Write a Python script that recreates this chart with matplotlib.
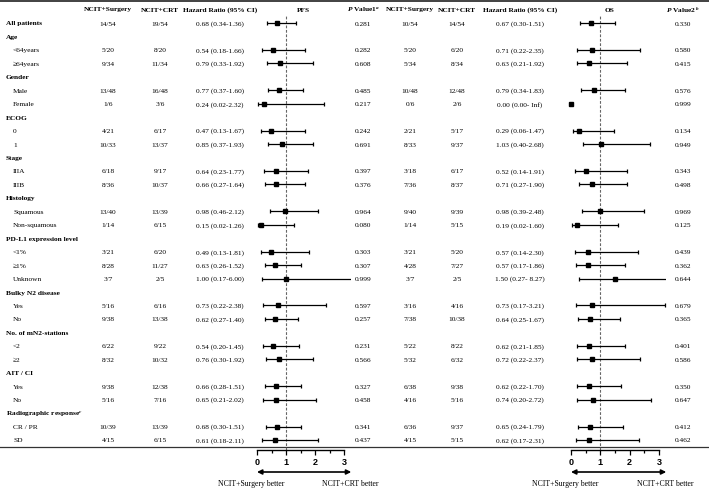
import numpy as np
import matplotlib
matplotlib.use("Agg")
import matplotlib.pyplot as plt

plt.rcParams["font.family"] = ["Liberation Serif", "DejaVu Serif"]
plt.rcParams["mathtext.fontset"] = "custom"
plt.rcParams["mathtext.rm"] = "Liberation Serif:bold"
plt.rcParams["mathtext.it"] = "Liberation Serif:italic:bold"
plt.rcParams["mathtext.bf"] = "Liberation Serif:bold"

# ---- data ----
labels = ["All patients", "Age", "<64years", "\u226564years", "Gender", "Male", "Female",
          "ECOG", "0", "1", "Stage", "IIIA", "IIIB", "Histology", "Squamous", "Non-squamous",
          "PD-L1 expression level", "<1%", "\u22651%", "Unknown", "Bulky N2 disease", "Yes", "No",
          "No. of mN2-stations", "<2", "\u22652", "AIT / CI", "Yes", "No",
          "Radiographic response$^{c}$", "CR / PR", "SD"]
is_header = [True, True, False, False, True, False, False, True, False, False, True, False, False,
             True, False, False, True, False, False, False, True, False, False, True, False, False,
             True, False, False, True, False, False]

pfs_surg = ["14/54", None, "5/20", "9/34", None, "13/48", "1/6", None, "4/21", "10/33", None,
            "6/18", "8/36", None, "13/40", "1/14", None, "3/21", "8/28", "3/7", None, "5/16",
            "9/38", None, "6/22", "8/32", None, "9/38", "5/16", None, "10/39", "4/15"]
pfs_crt = ["19/54", None, "8/20", "11/34", None, "16/48", "3/6", None, "6/17", "13/37", None,
           "9/17", "10/37", None, "13/39", "6/15", None, "6/20", "11/27", "2/5", None, "6/16",
           "13/38", None, "9/22", "10/32", None, "12/38", "7/16", None, "13/39", "6/15"]
pfs_hr = [0.68, None, 0.54, 0.79, None, 0.77, 0.24, None, 0.47, 0.85, None, 0.64, 0.66, None,
          0.98, 0.15, None, 0.49, 0.63, 1.00, None, 0.73, 0.62, None, 0.54, 0.76, None, 0.66,
          0.65, None, 0.68, 0.61]
pfs_lo = [0.34, None, 0.18, 0.33, None, 0.37, 0.02, None, 0.13, 0.37, None, 0.23, 0.27, None,
          0.46, 0.02, None, 0.13, 0.26, 0.17, None, 0.22, 0.27, None, 0.20, 0.30, None, 0.28,
          0.21, None, 0.30, 0.18]
pfs_hi = [1.36, None, 1.66, 1.92, None, 1.60, 2.32, None, 1.67, 1.93, None, 1.77, 1.64, None,
          2.12, 1.26, None, 1.81, 1.52, 6.00, None, 2.38, 1.40, None, 1.45, 1.92, None, 1.51,
          2.02, None, 1.51, 2.11]
pfs_p = ["0.281", None, "0.282", "0.608", None, "0.485", "0.217", None, "0.242", "0.691", None,
         "0.397", "0.376", None, "0.964", "0.080", None, "0.303", "0.307", "0.999", None, "0.597",
         "0.257", None, "0.231", "0.566", None, "0.327", "0.458", None, "0.341", "0.437"]

os_surg = ["10/54", None, "5/20", "5/34", None, "10/48", "0/6", None, "2/21", "8/33", None,
           "3/18", "7/36", None, "9/40", "1/14", None, "3/21", "4/28", "3/7", None, "3/16",
           "7/38", None, "5/22", "5/32", None, "6/38", "4/16", None, "6/36", "4/15"]
os_crt = ["14/54", None, "6/20", "8/34", None, "12/48", "2/6", None, "5/17", "9/37", None,
          "6/17", "8/37", None, "9/39", "5/15", None, "5/20", "7/27", "2/5", None, "4/16",
          "10/38", None, "8/22", "6/32", None, "9/38", "5/16", None, "9/37", "5/15"]
os_hr = [0.67, None, 0.71, 0.63, None, 0.79, 0.00, None, 0.29, 1.03, None, 0.52, 0.71, None,
         0.98, 0.19, None, 0.57, 0.57, 1.50, None, 0.73, 0.64, None, 0.62, 0.72, None, 0.62,
         0.74, None, 0.65, 0.62]
os_lo = [0.30, None, 0.22, 0.21, None, 0.34, 0.00, None, 0.06, 0.40, None, 0.14, 0.27, None,
         0.39, 0.02, None, 0.14, 0.17, 0.27, None, 0.17, 0.25, None, 0.21, 0.22, None, 0.22,
         0.20, None, 0.24, 0.17]
os_hi = [1.51, None, 2.35, 1.92, None, 1.83, np.inf, None, 1.47, 2.68, None, 1.91, 1.90, None,
         2.48, 1.60, None, 2.30, 1.86, 8.27, None, 3.21, 1.67, None, 1.85, 2.37, None, 1.70,
         2.72, None, 1.79, 2.31]
os_p = ["0.330", None, "0.580", "0.415", None, "0.576", "0.999", None, "0.134", "0.949", None,
        "0.343", "0.498", None, "0.969", "0.125", None, "0.439", "0.362", "0.644", None, "0.679",
        "0.365", None, "0.401", "0.586", None, "0.350", "0.647", None, "0.412", "0.462"]

# ---- layout (pixels) ----
W, H = 709, 489
ROW0, ROWH = 24, 13.45
TOP_PX, AXIS_PX = 16, 451
XMIN, XMAX = -0.12, 3.25
FS = 5.3


def row_y(i):
    return ROW0 + i * ROWH


def fmt_hr(h, lo, hi):
    hs = "Inf" if np.isinf(hi) else f"{hi:.2f}"
    sep = "- " if (np.isinf(hi) or hi >= 5 and h > 1.2) else "-"
    return f"{h:.2f} ({lo:.2f}{sep}{hs})"


fig = plt.figure(figsize=(W / 100, H / 100), dpi=100)
bg = fig.add_axes([0, 0, 1, 1])
bg.set_xlim(0, W)
bg.set_ylim(H, 0)
bg.axis("off")

# rules
bg.plot([0, W], [2, 2], color="#333333", lw=1.3)
bg.plot([0, W], [448, 448], color="#333333", lw=0.9)

# header
hdr_y = 10
headers = [(108, "NCIT+Surgery"), (160, "NCIT+CRT"), (220, "Hazard Ratio (95% CI)"),
           (303, "PFS"), (363, r"$\mathit{P}$ Value1$^{a}$"),
           (410, "NCIT+Surgery"), (457, "NCIT+CRT"), (520, "Hazard Ratio (95% CI)"),
           (610, "OS"), (683, r"$\mathit{P}$ Value2$^{\ b}$")]
for x, t in headers:
    bg.text(x, hdr_y, t, ha="center", va="center", fontsize=FS, fontweight="bold")

# table body
for i, lab in enumerate(labels):
    y = row_y(i)
    if is_header[i]:
        bg.text(6, y, lab, ha="left", va="center", fontsize=FS, fontweight="bold")
        if pfs_hr[i] is None:
            continue
    else:
        bg.text(13, y, lab, ha="left", va="center", fontsize=FS)
    cols = [(108, pfs_surg[i]), (160, pfs_crt[i]), (220, fmt_hr(pfs_hr[i], pfs_lo[i], pfs_hi[i])),
            (363, pfs_p[i]), (410, os_surg[i]), (457, os_crt[i]),
            (520, fmt_hr(os_hr[i], os_lo[i], os_hi[i])), (683, os_p[i])]
    for x, t in cols:
        bg.text(x, y, t, ha="center", va="center", fontsize=FS)


def forest(x0_px, ppu, hr, lo, hi):
    left = x0_px + XMIN * ppu
    width = (XMAX - XMIN) * ppu
    ax = fig.add_axes([left / W, 1 - AXIS_PX / H, width / W, (AXIS_PX - TOP_PX) / H])
    ax.set_xlim(XMIN, XMAX)
    ax.set_ylim((AXIS_PX - ROW0) / ROWH, (TOP_PX - ROW0) / ROWH)
    ax.patch.set_visible(False)
    ax.axvline(1, color="#666666", lw=0.8, ls=(0, (2.5, 1.5)), zorder=1)
    for i in range(len(hr)):
        if hr[i] is None:
            continue
        if np.isfinite(hi[i]):
            ax.errorbar(hr[i], i, xerr=[[hr[i] - lo[i]], [hi[i] - hr[i]]], fmt="none",
                        ecolor="black", elinewidth=0.9, capsize=1.6, capthick=0.9, zorder=2)
        ax.plot(hr[i], i, marker="s", color="black", ms=3.0, zorder=3)
    for s in ["top", "left", "right"]:
        ax.spines[s].set_visible(False)
    ax.spines["bottom"].set_bounds(0, 3)
    ax.spines["bottom"].set_linewidth(1.0)
    ax.set_yticks([])
    ax.set_xticks([0, 1, 2, 3])
    ax.set_xticks([0.5, 1.5, 2.5], minor=True)
    ax.tick_params(axis="x", which="major", length=3.8, width=0.9, pad=1.5,
                   labelsize=6.5)
    ax.tick_params(axis="x", which="minor", length=2.0, width=0.9)
    for t in ax.get_xticklabels():
        t.set_fontfamily("Liberation Sans")
        t.set_fontweight("bold")
    # direction arrow and captions
    y_arr = 473
    xa = x0_px
    xb = x0_px + 3.25 * ppu
    bg.annotate("", xy=(xa, y_arr), xytext=(xb, y_arr),
                arrowprops=dict(arrowstyle="<|-|>", color="black", lw=1.2,
                                mutation_scale=7, shrinkA=0, shrinkB=0))
    bg.text(x0_px - 6, 484, "NCIT+Surgery better", ha="center", va="center", fontsize=5.6)
    bg.text(x0_px + 3.2 * ppu, 484, "NCIT+CRT better", ha="center", va="center", fontsize=5.6)
    return ax


forest(257, 29.0, pfs_hr, pfs_lo, pfs_hi)
forest(571, 29.3, os_hr, os_lo, os_hi)

fig.savefig("out.png", dpi=100)
